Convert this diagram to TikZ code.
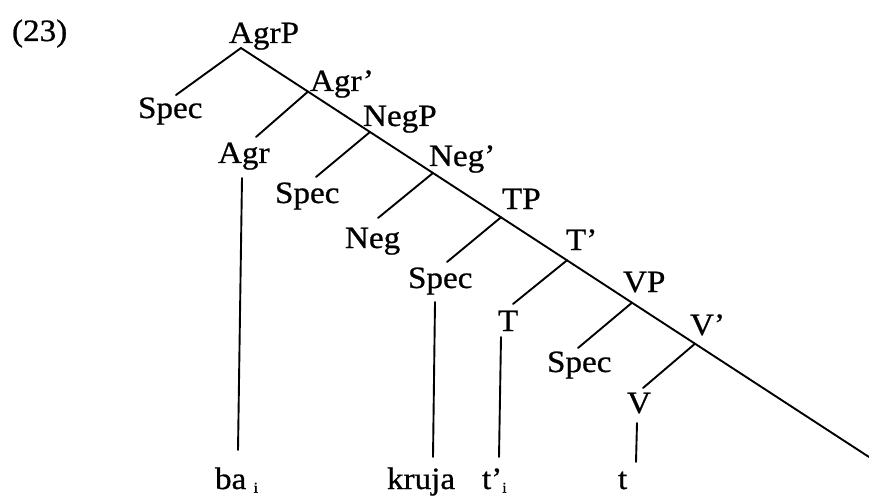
\documentclass[tikz,border=0pt]{standalone}
\usepackage{fontspec}
\setmainfont{Liberation Serif}
\newfontfamily\scanfont{Liberation Serif}[FakeBold=0.7]
\begin{document}
\begin{tikzpicture}[x=1pt,y=-1pt,
  lab/.style={anchor=base west,inner sep=0pt,outer sep=0pt,font=\scanfont\fontsize{31}{34}\selectfont,xscale=1.07},
  sub/.style={},
  br/.style={line width=1.9pt,line cap=round}]
\useasboundingbox (0,0) rectangle (869,497);
% labels
\node[lab] (ex) at (12,41) {(23)};
\node[lab] (AgrP) at (229,43) {AgrP};
\node[lab] (Spec1) at (138,118) {Spec};
\node[lab] (Agr1) at (310,91) {Agr’};
\node[lab] (Agr) at (218,163) {Agr};
\node[lab] (NegP) at (363,126) {NegP};
\node[lab] (Spec2) at (275,203) {Spec};
\node[lab] (Neg1) at (429,166) {Neg’};
\node[lab] (Neg) at (345,248) {Neg};
\node[lab] (TP) at (502,209) {TP};
\node[lab] (Spec3) at (408,288) {Spec};
\node[lab] (T1) at (566,250) {T’};
\node[lab] (T) at (498,331) {T};
\node[lab] (VP) at (623,292) {VP};
\node[lab] (Spec4) at (547,372) {Spec};
\node[lab] (V1) at (690,335) {V’};
\node[lab] (V) at (627,413) {V};
\node[lab] (ba) at (215,489) {ba\hspace{0.22em}\raisebox{-0.12em}{\fontsize{15}{15}\selectfont i}};
\node[lab] (kruja) at (387,489) {kruja};
\node[lab] (tpi) at (482,489) {t’\raisebox{-0.12em}{\fontsize{15}{15}\selectfont i}};
\node[lab] (t) at (618,489) {t};
% junctions on the main diagonal
\coordinate (jAgrP) at (241,48);
\coordinate (jAgr1) at (308,91.6);
\coordinate (jNegP) at (370,132);
\coordinate (jNeg1) at (433,173);
\coordinate (jTP) at (501,217.3);
\coordinate (jT1) at (567,260.3);
\coordinate (jVP) at (632,302.7);
\coordinate (jV1) at (695,343.7);
\coordinate (jEnd) at (869,457);
% branch ends
\coordinate (eSpec1) at (176,95);
\coordinate (eAgr) at (256,137);
\coordinate (eSpec2) at (316,177);
\coordinate (eNeg) at (378,218);
\coordinate (eSpec3) at (447,262);
\coordinate (eT) at (513,304);
\coordinate (eSpec4) at (578,348);
\coordinate (eV) at (643,388);
% vertical ends
\coordinate (vAgrT) at (242,178);
\coordinate (vAgrB) at (238,450);
\coordinate (vSpT) at (435,302);
\coordinate (vSpB) at (433,457);
\coordinate (vTT) at (501,337);
\coordinate (vTB) at (499,457);
\coordinate (vVT) at (637,423);
\coordinate (vVB) at (636,462);
% main diagonal
\draw[br] (jAgrP) -- (jAgr1) -- (jNegP) -- (jNeg1) -- (jTP) -- (jT1) -- (jVP) -- (jV1) -- (jEnd);
% left branches
\draw[br] (jAgrP) -- (eSpec1);
\draw[br] (jAgr1) -- (eAgr);
\draw[br] (jNegP) -- (eSpec2);
\draw[br] (jNeg1) -- (eNeg);
\draw[br] (jTP) -- (eSpec3);
\draw[br] (jT1) -- (eT);
\draw[br] (jVP) -- (eSpec4);
\draw[br] (jV1) -- (eV);
% verticals
\draw[br] (vAgrT) -- (vAgrB);
\draw[br] (vSpT) -- (vSpB);
\draw[br] (vTT) -- (vTB);
\draw[br] (vVT) -- (vVB);
\end{tikzpicture}
\end{document}
